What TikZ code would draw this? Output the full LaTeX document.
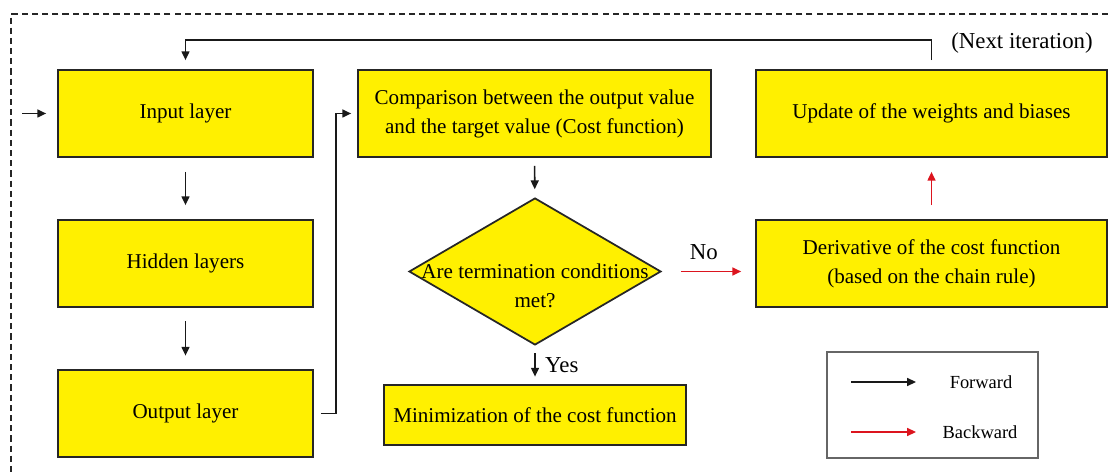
\documentclass[tikz,border=0pt]{standalone}
\usepackage{fontspec}
\setmainfont{Liberation Serif}
\usepackage{tikz}
\usetikzlibrary{arrows.meta,shapes.geometric}
\definecolor{boxyellow}{RGB}{255,240,0}
\definecolor{backred}{RGB}{220,20,30}
\tikzset{stage/.style={draw=black!85,line width=1pt,fill=boxyellow,
        minimum width=5.1cm,minimum height=1.74cm,align=center,
        font=\fontsize{12}{16.5}\selectfont},
    decision/.style={draw=black!85,line width=1pt,fill=boxyellow,diamond,
        minimum width=5.04cm,minimum height=2.94cm,inner sep=0pt},
    fwd/.style={draw=black!90,line width=0.9pt,-{Triangle[length=5pt,width=4.5pt]}},
    bwd/.style={draw=backred,line width=0.9pt,-{Triangle[length=5pt,width=4.5pt]}},
    gap/.style={shorten <=#1,shorten >=#1},
    note/.style={font=\fontsize{13}{15}\selectfont}}
\begin{document}
\begin{tikzpicture}[x=0.02cm,y=-0.02cm]
    \useasboundingbox (0,0) rectangle (1108,475);
    \draw[black!85,line width=0.8pt,dash pattern=on 3.5pt off 2.3pt]
        (1108,14) -- (11,14) -- (11,475);
    \node[stage] (input) at (185.5,113.5) {Input layer};
    \node[stage] (hidden) at (185.5,263.5) {Hidden layers};
    \node[stage] (output) at (185.5,413.5) {Output layer};
    \node[stage,minimum width=7.06cm] (cost) at (534.5,113.5)
        {Comparison between the output value\\and the target value (Cost function)};
    \node[decision] (check) at (535,271.5) {};
    \node[align=center,font=\fontsize{12}{16.5}\selectfont] (checktext) at (535,285.5)
        {Are termination conditions\\met?};
    \node[stage,minimum width=6.04cm,minimum height=1.2cm] (minim) at (535,415)
        {Minimization of the cost function};
    \node[stage,minimum width=7.02cm] (deriv) at (931.5,263.5)
        {Derivative of the cost function\\(based on the chain rule)};
    \node[stage,minimum width=7.02cm] (update) at (931.5,113.5)
        {Update of the weights and biases};
    \coordinate (start) at (22,113.5);
    \draw[fwd,shorten >=0.22cm] (start) -- (input);
    \draw[fwd,gap=0.28cm] (input) -- (hidden);
    \draw[fwd,gap=0.27cm] (hidden) -- (output);
    \draw[fwd,shorten <=0.14cm,shorten >=0.12cm] (output.east) -- ++(22,0) |- (cost.west);
    \draw[fwd,gap=0.16cm] (cost) -- (check);
    \draw[fwd,gap=0.15cm] (check) -- (minim)
        node[note,midway,right=2pt] (yes) {Yes};
    \draw[bwd,shorten <=0.38cm,shorten >=0.28cm] (check.east) -- (check.east -| deriv.west)
        node[note,pos=0.45,above=3pt] (no) {No};
    \draw[bwd,gap=0.28cm] (deriv) -- (update);
    \draw[fwd,gap=0.18cm] (update.north) -- ++(0,-29) -| (input.north);
    \node[note] (next) at (1022,43) {(Next iteration)};
    % legend
    \node[draw=black!60,line width=0.8pt,minimum width=4.22cm,minimum height=2.12cm]
        (legend) at (932.5,405) {};
    \coordinate (fa) at (851,382);
    \coordinate (fb) at (916,382);
    \coordinate (ba) at (851,432);
    \coordinate (bb) at (916,432);
    \draw[fwd] (fa) -- (fb);
    \draw[bwd] (ba) -- (bb);
    \node[font=\fontsize{10.5}{12}\selectfont] (fwdlabel) at (981,382) {Forward};
    \node[font=\fontsize{10.5}{12}\selectfont] (bwdlabel) at (980,432) {Backward};
\end{tikzpicture}
\end{document}
